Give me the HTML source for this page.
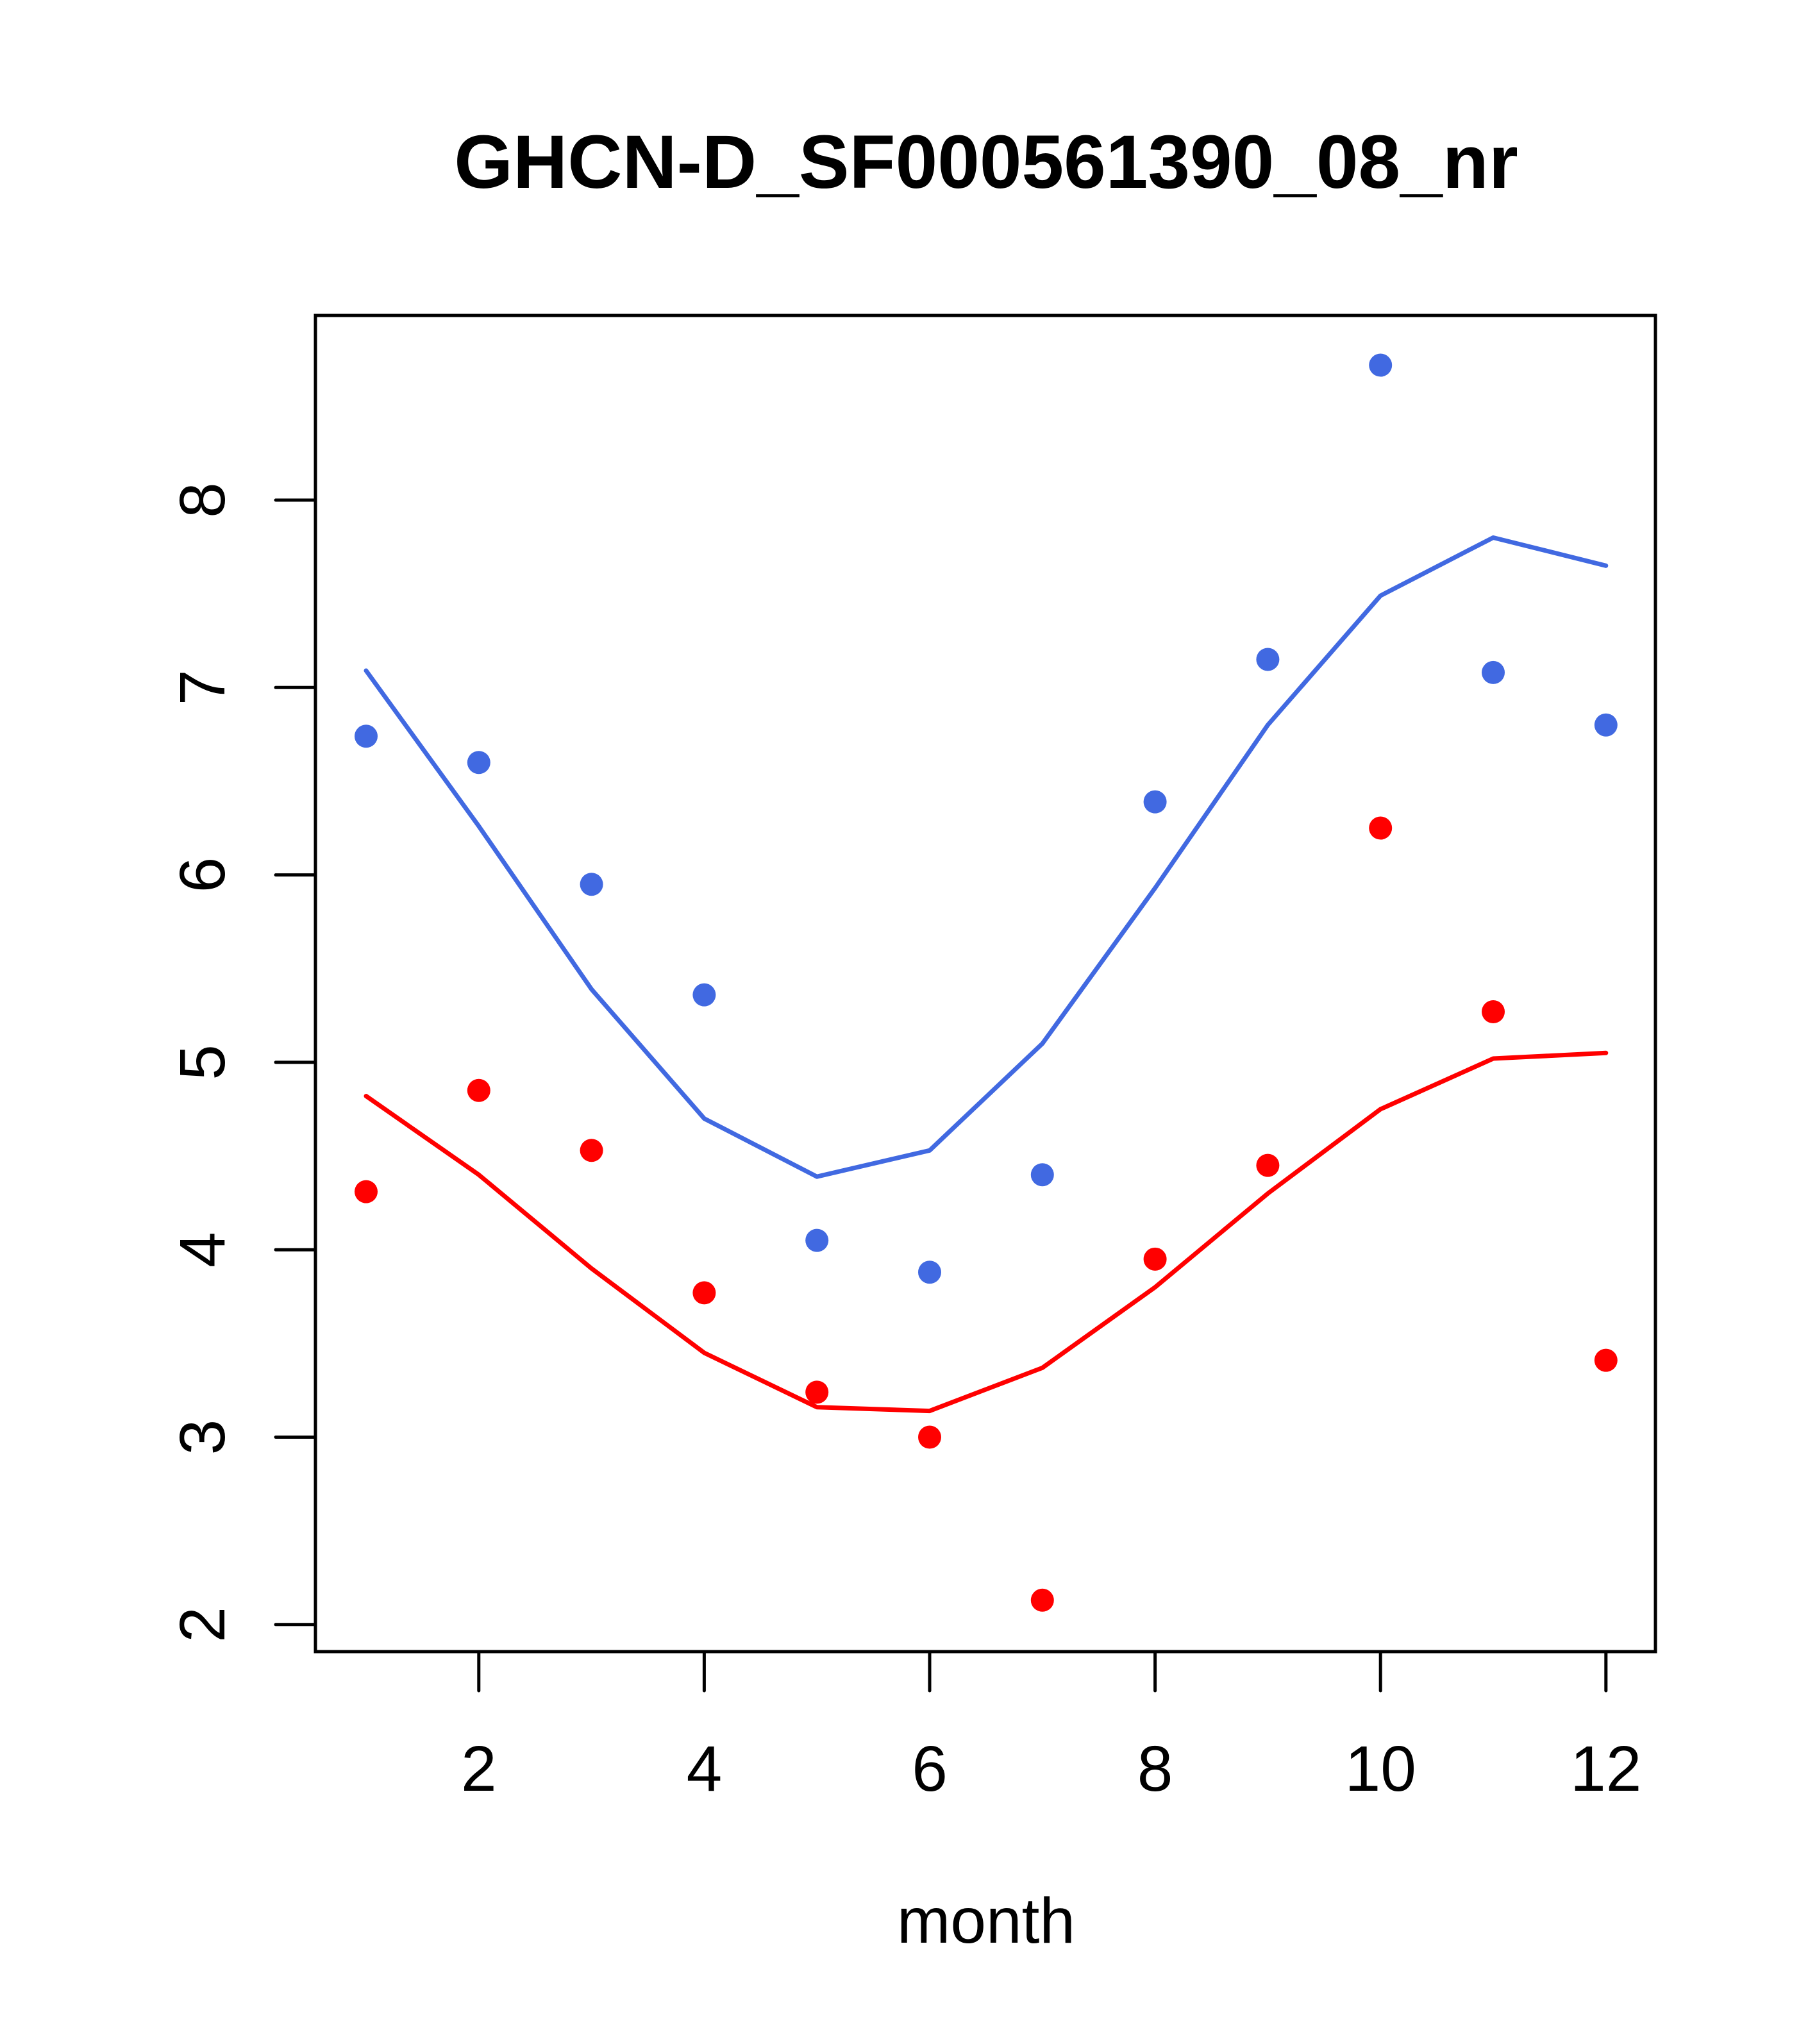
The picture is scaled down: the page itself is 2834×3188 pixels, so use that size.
<!DOCTYPE html>
<html><head><meta charset="utf-8"><style>html,body{margin:0;padding:0;background:#fff}svg{display:block}</style></head>
<body>
<svg id="chart" width="2834" height="3188" xmlns="http://www.w3.org/2000/svg" font-family="Liberation Sans, sans-serif">
<rect width="2834" height="3188" fill="#fff"/>
<text x="1538" y="293" font-size="118" font-weight="bold" text-anchor="middle">GHCN-D_SF000561390_08_nr</text>
<text x="1538" y="3030" font-size="100" text-anchor="middle">month</text>
<g id="marks"></g>
<rect x="492" y="492" width="2090" height="2084" fill="none" stroke="#000" stroke-width="5"/>
<g id="axes"></g>
</svg>
<script>
const months=[1,2,3,4,5,6,7,8,9,10,11,12];
const bluePoints=[6.74,6.60,5.95,5.36,4.05,3.88,4.40,6.39,7.15,8.72,7.08,6.80];
const blueLine=[7.09,6.26,5.39,4.70,4.39,4.53,5.10,5.93,6.80,7.49,7.80,7.65];
const redPoints=[4.31,4.85,4.53,3.77,3.24,3.00,2.13,3.95,4.45,6.25,5.27,3.41];
const redLine=[4.82,4.40,3.90,3.45,3.16,3.14,3.37,3.80,4.30,4.75,5.02,5.05];
const xTicks=[2,4,6,8,10,12];
const yTicks=[2,3,4,5,6,7,8];
const NS='http://www.w3.org/2000/svg';
function xs(v){return 571+(v-1)*175.8;}
function ys(v){return 780+(8-v)*292.3;}
const marks=document.getElementById('marks'),axes=document.getElementById('axes');
function mk(t,a,p){const e=document.createElementNS(NS,t);for(const k in a)e.setAttribute(k,a[k]);p.appendChild(e);return e;}
function line(vals,col,name){
  const p=mk('polyline',{points:vals.map((v,i)=>xs(months[i])+','+ys(v)).join(' '),fill:'none',stroke:col,'stroke-width':7,'stroke-linejoin':'round','stroke-linecap':'round'},marks);
  
  
}
function pts(vals,col,name){
  vals.forEach((v,i)=>{const c=mk('circle',{cx:xs(months[i]),cy:ys(v),r:18,fill:col},marks);
  
  });
}
line(blueLine,'#4169e1','blue-line');
line(redLine,'#ff0000','red-line');
pts(bluePoints,'#4169e1','blue-point');
pts(redPoints,'#ff0000','red-point');
xTicks.forEach(t=>{
  const l=mk('line',{x1:xs(t),x2:xs(t),y1:2576,y2:2637,stroke:'#000','stroke-width':5,'stroke-linecap':'round'},axes);
  
  
  const tx=mk('text',{x:xs(t),y:2793,'font-size':100,'text-anchor':'middle'},axes);tx.textContent=t;
  
  
});
yTicks.forEach(t=>{
  const l=mk('line',{x1:430,x2:492,y1:ys(t),y2:ys(t),stroke:'#000','stroke-width':5,'stroke-linecap':'round'},axes);
  
  
  const tx=mk('text',{x:0,y:0,'font-size':100,'text-anchor':'middle',transform:'translate(350,'+ys(t)+') rotate(-90)'},axes);tx.textContent=t;
  
  
});
</script>
</body></html>
